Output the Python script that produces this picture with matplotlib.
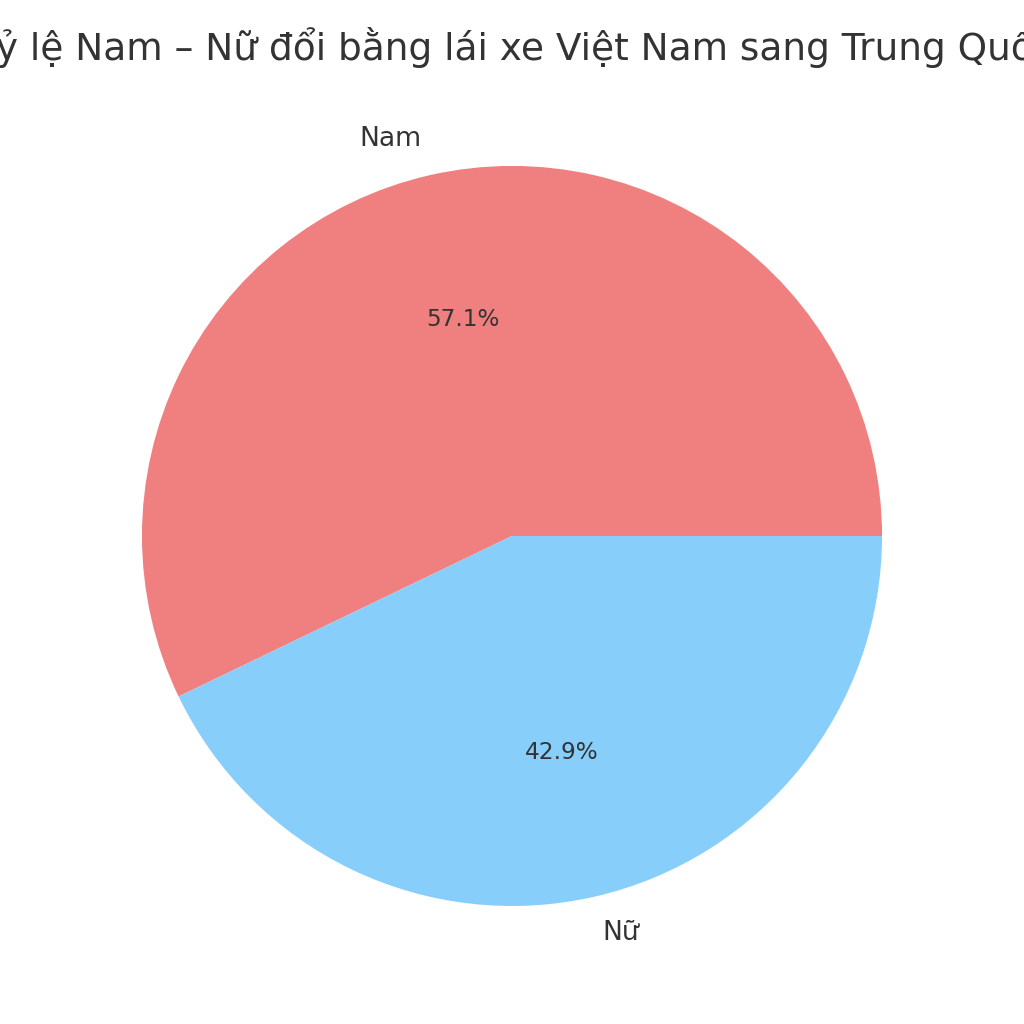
import matplotlib
matplotlib.use("Agg")
import matplotlib.pyplot as plt

labels = ["Nam", "Nữ"]
sizes = [4, 3]
colors = ["lightcoral", "lightskyblue"]
title = "Tỷ lệ Nam – Nữ đổi bằng lái xe Việt Nam sang Trung Quốc"

plt.rcParams["text.color"] = "#333333"

fig = plt.figure(figsize=(8, 8), dpi=128)
# square axes, pie radius about 370 px
ax = fig.add_axes([0.5 - 0.3975, 0.4766 - 0.3975, 0.795, 0.795])
wedges, texts, autotexts = ax.pie(sizes, labels=labels, colors=colors,
                                  autopct="%1.1f%%", startangle=0,
                                  textprops={"fontsize": 15})
for t in autotexts:
    t.set_fontsize(13)
ax.set_xlim(-1.1, 1.1)
ax.set_ylim(-1.1, 1.1)
ax.set_aspect("equal")

fig.text(0.502, 0.9414, title, fontsize=21.1, ha="center", va="baseline")

fig.savefig("out.png", dpi=128)
